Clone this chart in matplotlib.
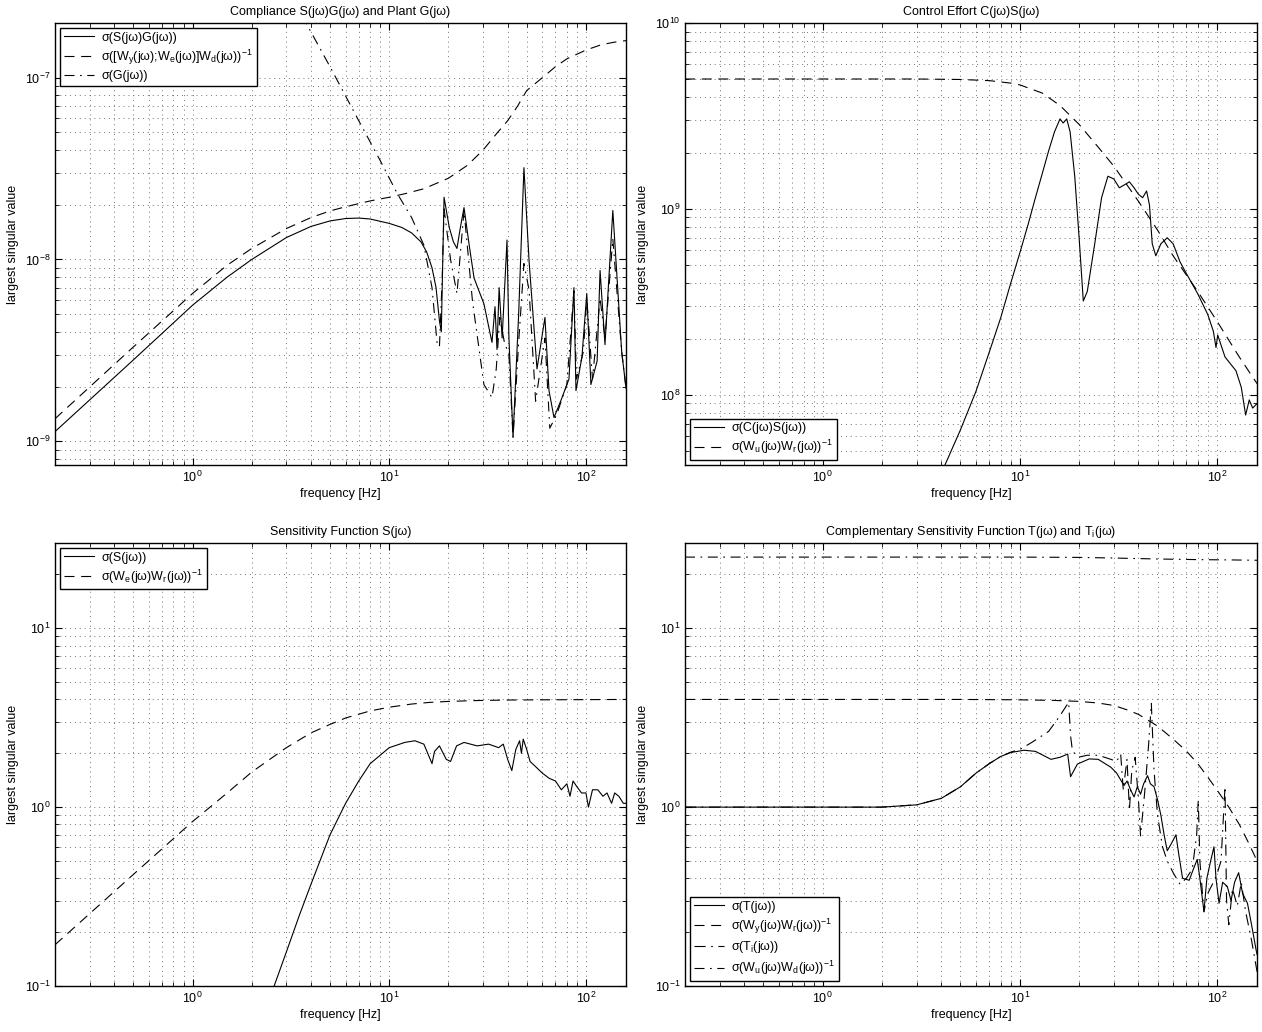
# four singular value plots (compliance, control effort, S, T)
import numpy as np
import matplotlib.pyplot as plt
from matplotlib.ticker import LogLocator, NullFormatter

plt.rcParams["font.family"] = ["Liberation Sans", "DejaVu Sans"]
plt.rcParams["mathtext.default"] = "regular"
plt.rcParams["font.size"] = 9

# compliance S*G, weight and plant G
f_sg = [0.2, 0.5, 1.0, 1.5, 2.0, 3.0, 4.0, 5.0, 6.0, 7.0, 8.0, 10.0, 11.6, 13.0, 14.5,
        15.5, 16.5, 17.3, 18.0, 18.4, 19.0, 20.2, 21.2, 22.1, 23.0, 24.0, 25.5, 27.0,
        30.3, 33.3, 34.5, 35.3, 36.2, 37.5, 39.7, 40.6, 42.6, 45.5, 48.4, 51.4, 56.4,
        61.9, 64.9, 68.8, 75.0, 82.0, 86.9, 89.0, 95.4, 101, 106, 114, 118, 125, 137,
        152, 160]
v_sg = [1.13e-9, 2.8e-9, 5.6e-9, 8.0e-9, 1.0e-8, 1.32e-8, 1.52e-8, 1.63e-8, 1.68e-8,
        1.69e-8, 1.67e-8, 1.58e-8, 1.5e-8, 1.4e-8, 1.25e-8, 1.1e-8, 9e-9, 7e-9, 4.6e-9,
        4.0e-9, 2.2e-8, 1.5e-8, 1.25e-8, 1.15e-8, 1.5e-8, 1.93e-8, 1.2e-8, 7.9e-9,
        5.7e-9, 3.5e-9, 5.5e-9, 3.2e-9, 7.0e-9, 3.7e-9, 1.28e-8, 3.7e-9, 1.05e-9, 5e-9,
        3.2e-8, 9.8e-9, 2.5e-9, 4.8e-9, 1.9e-9, 1.35e-9, 1.7e-9, 2.2e-9, 7.0e-9, 1.9e-9,
        2.9e-9, 6.5e-9, 2.05e-9, 2.76e-9, 8.7e-9, 3.4e-9, 1.86e-8, 3.1e-9, 1.95e-9]

f_wd = [0.2, 0.5, 1.0, 1.5, 2.0, 3.0, 4.0, 5.0, 6.0, 8.0, 10, 12, 15, 20, 25, 30, 35,
        40, 45, 50, 60, 70, 80, 100, 120, 140, 160]
v_wd = [1.33e-9, 3.3e-9, 6.5e-9, 9.3e-9, 1.15e-8, 1.48e-8, 1.7e-8, 1.85e-8, 1.95e-8,
        2.1e-8, 2.2e-8, 2.3e-8, 2.45e-8, 2.8e-8, 3.3e-8, 4.0e-8, 4.9e-8, 5.8e-8, 7.0e-8,
        8.5e-8, 1.0e-7, 1.15e-7, 1.27e-7, 1.42e-7, 1.52e-7, 1.57e-7, 1.6e-7]

f_g = [3.6, 5.0, 7.0, 9.0, 11.0, 13.0, 15.0, 16.5, 17.5, 18.0, 18.6, 19.0, 20.5, 22.1,
       24.0, 26.5, 30.3, 33.3, 35.0, 36.5, 38.5, 40.6, 42.6, 45.5, 48.4, 51.4, 55.5,
       61.9, 65.5, 71, 80, 86.9, 89.5, 97, 101, 108, 118, 125, 137, 152, 160]
v_g = [2.2e-7, 1.15e-7, 5.8e-8, 3.5e-8, 2.3e-8, 1.7e-8, 1.2e-8, 7e-9, 3.5e-9, 3.3e-9,
       8e-9, 1.9e-8, 1.0e-8, 6.5e-9, 1.86e-8, 5.9e-9, 2.05e-9, 1.74e-9, 2.5e-9, 4.8e-9,
       3.5e-9, 3.0e-9, 1.05e-9, 3.5e-9, 9.5e-9, 6.8e-9, 1.66e-9, 3.7e-9, 1.18e-9, 1.4e-9,
       2.05e-9, 6.7e-9, 2.2e-9, 3.1e-9, 6.1e-9, 2.2e-9, 6.1e-9, 3.7e-9, 1.3e-8, 3.1e-9,
       1.95e-9]

# control effort C*S and weight
f_cs = [4.0, 5.0, 6.0, 7.0, 8.0, 9.0, 10, 11, 12, 13, 14, 15, 16, 16.6, 17.3, 18, 19,
        20, 21, 22, 24, 26, 28, 30, 32, 34, 36, 38, 40, 42, 44, 45.5, 47, 49, 52, 56,
        60, 65, 70, 80, 90, 96, 99, 101, 110, 125, 133, 140, 146, 152, 160]
v_cs = [3.8e7, 6.5e7, 1.05e8, 1.7e8, 2.6e8, 4.0e8, 5.8e8, 8.2e8, 1.15e9, 1.55e9,
        2.05e9, 2.6e9, 3.05e9, 2.9e9, 3.05e9, 2.6e9, 1.5e9, 7e8, 3.2e8, 3.6e8, 6.5e8,
        1.15e9, 1.5e9, 1.45e9, 1.3e9, 1.35e9, 1.4e9, 1.3e9, 1.2e9, 1.15e9, 1.25e9,
        1.05e9, 6.5e8, 5.6e8, 6.5e8, 7.0e8, 6.5e8, 5.2e8, 4.5e8, 3.5e8, 2.7e8, 2.2e8,
        1.8e8, 2.1e8, 1.6e8, 1.35e8, 1.1e8, 7.8e7, 9.4e7, 8.5e7, 9e7]

f_wu = [0.2, 1, 3, 5, 7, 9, 10, 13, 16, 20, 25, 30, 40, 50, 60, 80, 100, 130, 160]
v_wu = [5e9, 5e9, 5e9, 4.97e9, 4.9e9, 4.75e9, 4.65e9, 4.2e9, 3.6e9, 2.85e9, 2.15e9,
        1.7e9, 1.1e9, 7.7e8, 5.6e8, 3.6e8, 2.5e8, 1.6e8, 1.15e8]

# sensitivity S and weight
f_s = [2.6, 3.0, 3.5, 4.0, 5.0, 6.0, 7.0, 8.0, 10, 12, 13.5, 15, 16, 16.5, 17, 18,
       19.5, 20.5, 22, 24, 28, 32, 36, 38, 40, 42, 44, 46, 47, 48, 50, 52, 55, 60, 65,
       70, 75, 80, 83, 86, 90, 95, 100, 103, 108, 115, 122, 128, 135, 140, 147, 155, 160]
v_s = [0.1, 0.155, 0.25, 0.37, 0.7, 1.05, 1.4, 1.75, 2.15, 2.3, 2.35, 2.25, 1.9, 1.75,
       2.05, 2.2, 1.85, 1.8, 2.2, 2.3, 2.2, 2.25, 2.15, 2.25, 1.85, 1.6, 2.1, 2.35, 2.0,
       2.4, 2.1, 1.8, 1.7, 1.55, 1.45, 1.4, 1.25, 1.35, 1.15, 1.4, 1.3, 1.2, 1.2, 1.0,
       1.25, 1.25, 1.15, 1.2, 1.05, 1.2, 1.15, 1.05, 1.05]

f_we = [0.2, 0.5, 1.0, 1.5, 2.0, 3.0, 4.0, 5.0, 6.0, 8.0, 10, 13, 16, 20, 25, 30, 40,
        60, 100, 160]
v_we = [0.17, 0.42, 0.83, 1.2, 1.57, 2.15, 2.6, 2.9, 3.15, 3.45, 3.62, 3.77, 3.85, 3.9,
        3.93, 3.95, 3.97, 3.98, 3.99, 4.0]

# complementary sensitivity T, Ti and weights
f_t = [0.2, 1, 2, 3, 4, 5, 6, 7, 8, 9, 10.5, 12, 14.4, 16, 17.5, 18.1, 19.6, 22.5, 25,
       29, 31, 33.8, 35, 36.5, 38, 39.5, 41, 42.5, 44.5, 46, 48, 50, 52, 54, 56, 58.5,
       62, 64, 67, 72.4, 76, 79.5, 82, 86, 89, 93, 96.7, 99, 102.6, 107, 113, 118, 123,
       129, 135, 143, 150, 158, 160]
v_t = [1.0, 1.0, 1.0, 1.03, 1.12, 1.3, 1.55, 1.75, 1.92, 2.02, 2.08, 2.05, 1.85, 1.9,
       1.98, 1.48, 1.74, 1.86, 1.85, 1.67, 1.55, 1.32, 1.4, 1.25, 1.14, 1.3, 1.18, 1.35,
       1.5, 1.35, 1.3, 1.1, 0.9, 0.7, 0.57, 0.62, 0.70, 0.55, 0.40, 0.39, 0.45, 0.51,
       0.4, 0.26, 0.4, 0.5, 0.60, 0.4, 0.29, 0.38, 0.36, 0.3, 0.38, 0.43, 0.33, 0.29,
       0.22, 0.16, 0.15]

f_ti = [0.2, 1, 2, 3, 4, 5, 6, 7, 8, 9, 10, 11.5, 14, 15.7, 17, 17.7, 18.1, 18.5, 19.8,
        22, 25, 29, 31, 32.5, 33.5, 35, 36, 37, 38.5, 40, 41, 43, 45, 46.5, 48, 50, 53,
        56, 60, 65, 70, 75, 79, 80.5, 82, 86, 90, 96, 100, 105, 110, 112, 115, 120, 127,
        133, 140, 150, 160]
v_ti = [1.0, 1.0, 1.0, 1.03, 1.12, 1.3, 1.55, 1.75, 1.92, 2.03, 2.1, 2.3, 2.65, 3.15,
        3.6, 3.85, 2.5, 2.06, 1.9, 1.95, 1.95, 1.85, 1.8, 1.98, 1.25, 1.85, 0.96, 1.6,
        1.9, 1.1, 0.69, 1.2, 2.2, 3.8, 1.6, 0.9, 0.6, 0.5, 0.43, 0.37, 0.4, 0.45, 0.7,
        1.1, 0.5, 0.26, 0.33, 0.38, 0.42, 0.5, 1.3, 0.3, 0.22, 0.35, 0.28, 0.38, 0.26,
        0.18, 0.12]

f_wyr = [0.2, 1, 5, 10, 15, 20, 25, 30, 35, 40, 45, 50, 60, 70, 80, 90, 100, 115, 130,
         145, 160]
v_wyr = [4.0, 4.0, 4.0, 3.98, 3.95, 3.9, 3.82, 3.7, 3.5, 3.3, 3.05, 2.84, 2.4, 2.06,
         1.75, 1.47, 1.25, 1.0, 0.8, 0.63, 0.5]

f_wud = [0.2, 10, 20, 30, 50, 80, 120, 160]
v_wud = [25.0, 25.0, 24.9, 24.7, 24.4, 24.2, 24.1, 24.0]

DASH = (9, 6)
DASHDOT = (9, 5, 1.5, 5)
LW = 0.8


def style(ax, ylim, title):
    ax.set_xscale("log")
    ax.set_yscale("log")
    ax.set_xlim(0.2, 160)
    ax.set_ylim(*ylim)
    for axis in (ax.xaxis, ax.yaxis):
        axis.set_major_locator(LogLocator(base=10))
        axis.set_minor_locator(LogLocator(base=10, subs=np.arange(2, 10)))
        axis.set_minor_formatter(NullFormatter())
    ax.grid(True, which="both", ls=(0, (1, 4)), color="0.45", lw=0.7)
    ax.tick_params(which="both", direction="in", top=True, right=True)
    ax.tick_params(which="major", length=5)
    ax.tick_params(which="minor", length=3)
    for s in ax.spines.values():
        s.set_linewidth(1.0)
    ax.set_xlabel("frequency [Hz]", labelpad=2)
    ax.set_ylabel("largest singular value")
    ax.set_title(title, fontsize=9, pad=6)


def legend(ax, loc):
    lg = ax.legend(loc=loc, fancybox=False, edgecolor="black", framealpha=1,
                   borderpad=0.3, labelspacing=0.3, handlelength=2.4,
                   handletextpad=0.6, borderaxespad=0.4, fontsize=9)
    lg.get_frame().set_linewidth(1.0)


fig = plt.figure(figsize=(12.62, 10.32), dpi=100)
ax1 = fig.add_axes([0.0436, 0.5494, 0.4525, 0.4283])
ax2 = fig.add_axes([0.5428, 0.5494, 0.4533, 0.4283])
ax3 = fig.add_axes([0.0436, 0.0446, 0.4525, 0.4293])
ax4 = fig.add_axes([0.5428, 0.0446, 0.4533, 0.4293])

ax1.plot(f_sg, v_sg, "k-", lw=LW, label="σ(S(jω)G(jω))")
ax1.plot(f_wd, v_wd, "k--", lw=LW, dashes=DASH,
         label="σ([W$_y$(jω);W$_e$(jω)]W$_d$(jω))$^{-1}$")
ax1.plot(f_g, v_g, "k-.", lw=LW, dashes=DASHDOT, label="σ(G(jω))")
style(ax1, (7.4e-10, 2e-7), "Compliance S(jω)G(jω) and Plant G(jω)")
legend(ax1, "upper left")

ax2.plot(f_cs, v_cs, "k-", lw=LW, label="σ(C(jω)S(jω))")
ax2.plot(f_wu, v_wu, "k--", lw=LW, dashes=DASH, label="σ(W$_u$(jω)W$_r$(jω))$^{-1}$")
style(ax2, (4.2e7, 1e10), "Control Effort C(jω)S(jω)")
legend(ax2, "lower left")

ax3.plot(f_s, v_s, "k-", lw=LW, label="σ(S(jω))")
ax3.plot(f_we, v_we, "k--", lw=LW, dashes=DASH, label="σ(W$_e$(jω)W$_r$(jω))$^{-1}$")
style(ax3, (0.1, 30), "Sensitivity Function S(jω)")
legend(ax3, "upper left")

ax4.plot(f_t, v_t, "k-", lw=LW, label="σ(T(jω))")
ax4.plot(f_wyr, v_wyr, "k--", lw=LW, dashes=DASH, label="σ(W$_y$(jω)W$_r$(jω))$^{-1}$")
ax4.plot(f_ti, v_ti, "k-.", lw=LW, dashes=(10, 5, 1.5, 5), label="σ(T$_i$(jω))")
ax4.plot(f_wud, v_wud, "k-.", lw=LW, dashes=DASHDOT, label="σ(W$_u$(jω)W$_d$(jω))$^{-1}$")
style(ax4, (0.1, 30), "Complementary Sensitivity Function T(jω) and T$_i$(jω)")
legend(ax4, "lower left")

fig.savefig("out.png", dpi=100)
